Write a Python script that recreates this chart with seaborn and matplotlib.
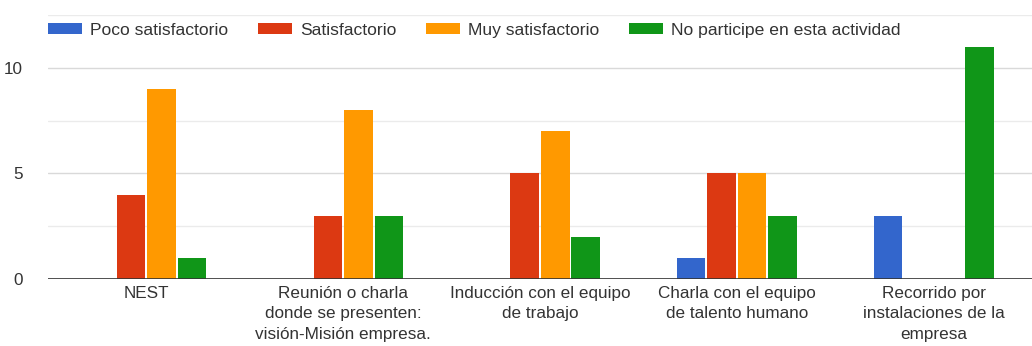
import pandas as pd
import seaborn as sns
import matplotlib.pyplot as plt
from matplotlib.ticker import MultipleLocator

categories = ["NEST",
              "Reunión o charla\ndonde se presenten:\nvisión-Misión empresa.",
              "Inducción con el equipo\nde trabajo",
              "Charla con el equipo\nde talento humano",
              "Recorrido por\ninstalaciones de la\nempresa"]
series = ["Poco satisfactorio", "Satisfactorio", "Muy satisfactorio", "No participe en esta actividad"]
poco = [0, 0, 0, 1, 3]
satisf = [4, 3, 5, 5, 0]
muy = [9, 8, 7, 5, 0]
no_part = [1, 3, 2, 3, 11]
colors = ["#3366cc", "#dc3912", "#ff9900", "#109618"]

rows = []
for s, vals in zip(series, [poco, satisf, muy, no_part]):
    for c, v in zip(categories, vals):
        rows.append({"cat": c, "serie": s, "n": v})
df = pd.DataFrame(rows)

sns.set_style("white")
plt.rcParams["font.family"] = ["Liberation Sans", "DejaVu Sans"]
fs = 12.3

fig = plt.figure(figsize=(10.32, 3.46), dpi=100)
ax = fig.add_axes([0.0465, 0.1936, 0.9535, 0.763])
sns.barplot(data=df, x="cat", y="n", hue="serie", palette=colors,
            width=0.62, gap=0.06, linewidth=0, saturation=1, ax=ax)

ax.set_ylim(0, 12.5)
ax.set_xlim(-0.5, 4.5)
ax.yaxis.set_major_locator(MultipleLocator(5))
ax.yaxis.set_minor_locator(MultipleLocator(2.5))
ax.grid(axis="y", which="major", color="#d9d9d9", lw=1)
ax.grid(axis="y", which="minor", color="#ebebeb", lw=1)
ax.set_axisbelow(True)
for sp in ax.spines.values():
    sp.set_visible(False)
ax.axhline(0, color="#333333", lw=1.2)
ax.set_xlabel("")
ax.set_ylabel("")
ax.tick_params(axis="both", which="both", length=0, labelsize=fs, colors="#333333")
ax.tick_params(axis="y", pad=18)
ax.tick_params(axis="x", pad=5)
for t in ax.get_xticklabels():
    t.set_linespacing(1.45)

ax.legend(loc="upper left", bbox_to_anchor=(0.0, 0.97), ncol=4, frameon=False,
          fontsize=fs + 0.3, handlelength=1.95, handleheight=0.6, columnspacing=1.7,
          handletextpad=0.45, borderaxespad=0, borderpad=0, labelcolor="#333333")

fig.savefig("out.png", dpi=100)
